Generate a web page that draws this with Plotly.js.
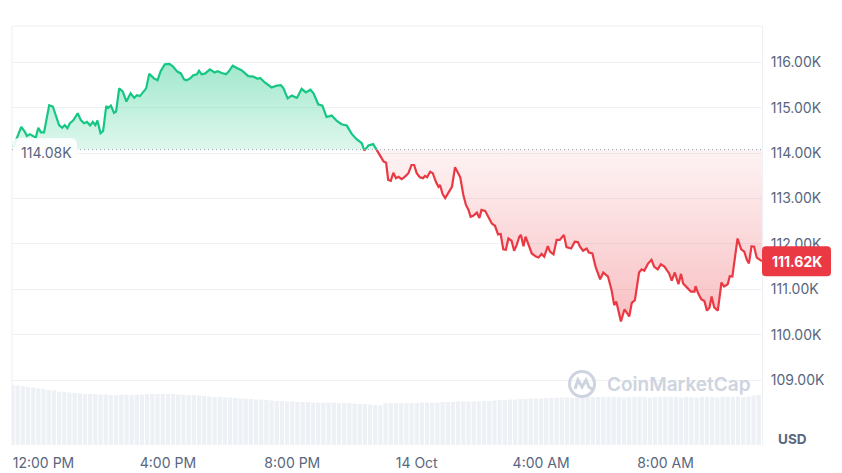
<!DOCTYPE html>
<html><head><meta charset="utf-8">
<script src="https://cdn.plot.ly/plotly-3.0.1.min.js"></script>
<style>html,body{margin:0;padding:0;background:#fff}#chart{width:842px;height:473px}</style>
</head><body><div id="chart"></div>
<script>
const baselinePrice = 114080;
const lastPrice = 111620;

const times = [
'2025-10-13 11:02','2025-10-13 11:17','2025-10-13 11:24','2025-10-13 11:28','2025-10-13 11:34','2025-10-13 11:39','2025-10-13 11:45','2025-10-13 11:50','2025-10-13 11:55','2025-10-13 12:01',
'2025-10-13 12:11','2025-10-13 12:18','2025-10-13 12:25','2025-10-13 12:30','2025-10-13 12:36','2025-10-13 12:41','2025-10-13 12:46','2025-10-13 12:51','2025-10-13 12:57','2025-10-13 13:06',
'2025-10-13 13:12','2025-10-13 13:18','2025-10-13 13:24','2025-10-13 13:30','2025-10-13 13:35','2025-10-13 13:40','2025-10-13 13:44','2025-10-13 13:50','2025-10-13 13:55','2025-10-13 14:01',
'2025-10-13 14:05','2025-10-13 14:10','2025-10-13 14:16','2025-10-13 14:20','2025-10-13 14:26','2025-10-13 14:33','2025-10-13 14:40','2025-10-13 14:48','2025-10-13 14:55','2025-10-13 15:00',
'2025-10-13 15:06','2025-10-13 15:12','2025-10-13 15:18','2025-10-13 15:24','2025-10-13 15:33','2025-10-13 15:40','2025-10-13 15:46','2025-10-13 15:54','2025-10-13 16:03','2025-10-13 16:10',
'2025-10-13 16:18','2025-10-13 16:25','2025-10-13 16:31','2025-10-13 16:36','2025-10-13 16:43','2025-10-13 16:49','2025-10-13 16:56','2025-10-13 17:00','2025-10-13 17:05','2025-10-13 17:12',
'2025-10-13 17:21','2025-10-13 17:30','2025-10-13 17:36','2025-10-13 17:44','2025-10-13 17:52','2025-10-13 17:58','2025-10-13 18:05','2025-10-13 18:13','2025-10-13 18:22','2025-10-13 18:35',
'2025-10-13 18:45','2025-10-13 18:53','2025-10-13 18:58','2025-10-13 19:07','2025-10-13 19:20','2025-10-13 19:30','2025-10-13 19:38','2025-10-13 19:43','2025-10-13 19:51','2025-10-13 19:59',
'2025-10-13 20:09','2025-10-13 20:18','2025-10-13 20:26','2025-10-13 20:35','2025-10-13 20:41','2025-10-13 20:50','2025-10-13 20:58','2025-10-13 21:06','2025-10-13 21:16','2025-10-13 21:26',
'2025-10-13 21:35','2025-10-13 21:45','2025-10-13 21:55','2025-10-13 22:04','2025-10-13 22:14','2025-10-13 22:19','2025-10-13 22:27','2025-10-13 22:36','2025-10-13 22:43','2025-10-13 22:49',
'2025-10-13 22:56','2025-10-13 23:01','2025-10-13 23:05','2025-10-13 23:10','2025-10-13 23:15','2025-10-13 23:20','2025-10-13 23:25','2025-10-13 23:31','2025-10-13 23:37','2025-10-13 23:44',
'2025-10-13 23:50','2025-10-13 23:55','2025-10-14 00:00','2025-10-14 00:06','2025-10-14 00:12','2025-10-14 00:16','2025-10-14 00:20','2025-10-14 00:26','2025-10-14 00:31','2025-10-14 00:37',
'2025-10-14 00:42','2025-10-14 00:45','2025-10-14 00:50','2025-10-14 00:55','2025-10-14 01:01','2025-10-14 01:08','2025-10-14 01:14','2025-10-14 01:18','2025-10-14 01:24','2025-10-14 01:30',
'2025-10-14 01:35','2025-10-14 01:40','2025-10-14 01:44','2025-10-14 01:49','2025-10-14 01:56','2025-10-14 02:01','2025-10-14 02:05','2025-10-14 02:12','2025-10-14 02:18','2025-10-14 02:25',
'2025-10-14 02:31','2025-10-14 02:37','2025-10-14 02:42','2025-10-14 02:47','2025-10-14 02:52','2025-10-14 02:57','2025-10-14 03:03','2025-10-14 03:08','2025-10-14 03:13','2025-10-14 03:18',
'2025-10-14 03:21','2025-10-14 03:26','2025-10-14 03:30','2025-10-14 03:35','2025-10-14 03:42','2025-10-14 03:50','2025-10-14 03:55','2025-10-14 04:01','2025-10-14 04:06','2025-10-14 04:13',
'2025-10-14 04:17','2025-10-14 04:24','2025-10-14 04:30','2025-10-14 04:36','2025-10-14 04:44','2025-10-14 04:49','2025-10-14 04:58','2025-10-14 05:05','2025-10-14 05:11','2025-10-14 05:15',
'2025-10-14 05:21','2025-10-14 05:28','2025-10-14 05:32','2025-10-14 05:39','2025-10-14 05:45','2025-10-14 05:54','2025-10-14 06:00','2025-10-14 06:09','2025-10-14 06:16','2025-10-14 06:21',
'2025-10-14 06:25','2025-10-14 06:29','2025-10-14 06:34','2025-10-14 06:41','2025-10-14 06:50','2025-10-14 06:55','2025-10-14 07:01','2025-10-14 07:09','2025-10-14 07:14','2025-10-14 07:19',
'2025-10-14 07:26','2025-10-14 07:33','2025-10-14 07:38','2025-10-14 07:45','2025-10-14 07:51','2025-10-14 07:58','2025-10-14 08:07','2025-10-14 08:12','2025-10-14 08:18','2025-10-14 08:25',
'2025-10-14 08:30','2025-10-14 08:34','2025-10-14 08:43','2025-10-14 08:49','2025-10-14 08:56','2025-10-14 08:58','2025-10-14 09:03','2025-10-14 09:09','2025-10-14 09:15','2025-10-14 09:20',
'2025-10-14 09:25','2025-10-14 09:29','2025-10-14 09:34','2025-10-14 09:41','2025-10-14 09:48','2025-10-14 09:53','2025-10-14 10:00','2025-10-14 10:04','2025-10-14 10:09','2025-10-14 10:19',
'2025-10-14 10:26','2025-10-14 10:32','2025-10-14 10:37','2025-10-14 10:41','2025-10-14 10:46','2025-10-14 10:51','2025-10-14 10:56','2025-10-14 11:02','2025-10-14 11:06'
];

const prices = [
114140,114580,114470,114380,114420,114380,114340,114560,114460,114460,
115060,115030,114800,114620,114560,114620,114550,114660,114720,114880,
114730,114660,114690,114610,114690,114620,114720,114440,114490,115040,
115000,115050,114890,114920,115430,115360,115140,115320,115220,115280,
115260,115340,115430,115750,115650,115610,115810,115960,115970,115910,
115800,115760,115630,115610,115650,115720,115740,115820,115740,115760,
115850,115780,115810,115770,115740,115810,115930,115880,115830,115700,
115690,115640,115660,115560,115450,115490,115500,115430,115210,115270,
115220,115420,115340,115400,115320,115080,115050,114800,114830,114710,
114640,114610,114420,114310,114220,114060,114170,114200,114070,113960,
113820,113790,113410,113390,113570,113450,113480,113430,113480,113560,
113740,113740,113560,113470,113450,113500,113470,113590,113560,113370,
113260,113300,113100,113010,113130,113260,113690,113590,113470,113080,
112860,112750,112600,112620,112690,112570,112750,112730,112590,112450,
112400,112210,112220,111880,111870,112120,112070,111850,111980,112160,
112200,111950,112160,112010,111790,111720,111700,111780,111720,111950,
111830,111770,112090,112090,112200,111930,111900,112050,112040,111940,
111850,111900,111810,111790,111500,111220,111370,111280,110980,110650,
110730,110540,110290,110560,110400,110700,110760,111370,111440,111410,
111560,111650,111500,111440,111550,111500,111350,111190,111370,111110,
111340,111130,111020,110950,110950,111070,110910,110780,110740,110530,
110600,110840,110600,110530,111150,111060,111110,111290,111280,112120,
111880,111830,111650,111570,111950,111940,111700,111660,111620
];

const volumeStart = '2025-10-13 11:00';
const volumeStepMinutes = 10;
const volumes = [
72.0,71.4,70.8,69.6,69.0,67.8,67.2,66.0,65.4,64.2,63.6,63.0,62.4,61.8,61.2,61.2,61.2,60.6,60.6,60.0,
60.0,60.6,60.6,60.0,60.6,60.6,61.2,61.2,61.2,61.2,61.2,61.2,60.6,60.6,60.0,60.0,59.4,58.8,58.2,57.6,
57.6,57.0,57.0,56.4,55.8,55.8,55.2,54.6,54.6,54.0,53.4,52.8,52.8,52.2,52.2,51.6,51.6,51.6,51.0,51.0,
51.0,51.0,51.0,50.4,50.4,50.4,49.8,49.2,49.2,48.6,48.0,47.4,50.4,50.4,50.4,50.4,50.4,50.4,50.4,51.0,
51.0,51.0,51.0,51.6,51.6,51.6,52.2,52.2,52.2,52.2,52.2,52.8,52.8,53.4,54.0,54.0,54.6,54.6,55.2,55.2,
55.8,55.8,55.8,56.4,56.4,56.4,57.0,57.0,56.4,57.0,57.6,57.6,57.6,57.6,57.6,57.6,57.6,57.6,57.0,57.6,
57.6,57.6,57.6,57.0,57.6,57.6,57.6,57.6,57.6,57.0,57.6,57.0,57.0,57.6,57.6,57.6,57.0,57.6,57.6,57.6,
58.2,57.6,58.2,59.4,60.0
];

const xRange = ['2025-10-13 10:59:12', '2025-10-14 11:06:12'];
const xTickTimes = ['2025-10-13 12:00','2025-10-13 16:00','2025-10-13 20:00','2025-10-14 00:00','2025-10-14 04:00','2025-10-14 08:00'];
const xTickLabels = ['12:00 PM','4:00 PM','8:00 PM','14 Oct','4:00 AM','8:00 AM'];
const yTickValues = [109000,110000,111000,112000,113000,114000,115000,116000];
const yTickLabels = ['109.00K','110.00K','111.00K','112.00K','113.00K','114.00K','115.00K','116.00K'];
const yRange = [107567, 116805];
const volRange = [0, 502.8];

function toMs(s){
  const [d,t] = s.split(' ');
  const [Y,M,D] = d.split('-').map(Number);
  const tp = t.split(':').map(Number);
  return Date.UTC(Y, M-1, D, tp[0], tp[1], tp[2] || 0);
}

const tMs = times.map(toMs);
const aug = [];
for (let i = 0; i < prices.length; i++) {
  aug.push([tMs[i], prices[i]]);
  if (i < prices.length - 1) {
    const a = prices[i] - baselinePrice, b = prices[i+1] - baselinePrice;
    if (a * b < 0) {
      const f = a / (a - b);
      aug.push([tMs[i] + f * (tMs[i+1] - tMs[i]), baselinePrice]);
    }
  }
}
const ax = aug.map(p => p[0]);
const upY = aug.map(p => p[1] >= baselinePrice ? p[1] : null);
const dnY = aug.map(p => p[1] <= baselinePrice ? p[1] : null);
const upFill = aug.map(p => Math.max(p[1], baselinePrice));
const dnFill = aug.map(p => Math.min(p[1], baselinePrice));
const baseY = aug.map(() => baselinePrice);
const maxP = Math.max(...prices), minP = Math.min(...prices);

const v0 = toMs(volumeStart), step = volumeStepMinutes * 60000;
const volX = volumes.map((_, i) => v0 + i * step);

const GREEN = '#16c784', RED = '#ea3943';
const FONT = 'Inter, "Noto Sans", sans-serif';
const TXT = '#58667e';

const traces = [
  {x: ax, y: baseY, mode: 'lines', line: {width: 0}, hoverinfo: 'skip'},
  {x: ax, y: upFill, mode: 'lines', line: {width: 0}, fill: 'tonexty',
   fillgradient: {type: 'vertical', start: baselinePrice, stop: maxP,
     colorscale: [[0, 'rgba(22,199,132,0.14)'], [1, 'rgba(22,199,132,0.40)']]}, hoverinfo: 'skip'},
  {x: ax, y: baseY, mode: 'lines', line: {width: 0}, hoverinfo: 'skip'},
  {x: ax, y: dnFill, mode: 'lines', line: {width: 0}, fill: 'tonexty',
   fillgradient: {type: 'vertical', start: minP, stop: baselinePrice,
     colorscale: [[0, 'rgba(234,57,67,0.32)'], [1, 'rgba(234,57,67,0.06)']]}, hoverinfo: 'skip'},
  {x: ax, y: upY, mode: 'lines', line: {color: GREEN, width: 2.2}, connectgaps: false},
  {x: ax, y: dnY, mode: 'lines', line: {color: RED, width: 2.2}, connectgaps: false},
  {x: volX, y: volumes, type: 'bar', yaxis: 'y2', width: step * 0.82,
   marker: {color: '#edf0f4', line: {width: 0}}, hoverinfo: 'skip'}
];

const span = yRange[1] - yRange[0];
const basePaper = (baselinePrice - yRange[0]) / span;
const lastPaper = (lastPrice - yRange[0]) / span;

function roundRect(x0, y0, x1, y1, r) {
  return `M ${x0+r},${y1} L ${x1-r},${y1} Q ${x1},${y1} ${x1},${y1-r} L ${x1},${y0+r} Q ${x1},${y0} ${x1-r},${y0} L ${x0+r},${y0} Q ${x0},${y0} ${x0},${y0+r} L ${x0},${y1-r} Q ${x0},${y1} ${x0+r},${y1} Z`;
}

const layout = {
  width: 842, height: 473, autosize: false,
  margin: {l: 12, r: 80, t: 26, b: 28, pad: 0},
  paper_bgcolor: '#ffffff', plot_bgcolor: '#ffffff',
  showlegend: false, bargap: 0.18,
  font: {family: FONT, size: 14, color: TXT},
  xaxis: {type: 'date', range: xRange.map(toMs), tickvals: xTickTimes.map(toMs), ticktext: xTickLabels,
    showgrid: false, zeroline: false, showline: false, ticks: 'outside', ticklen: 5, tickcolor: 'rgba(0,0,0,0)',
    tickfont: {family: FONT, size: 14, color: TXT}, fixedrange: true},
  yaxis: {side: 'right', range: yRange, tickvals: yTickValues, ticktext: yTickLabels,
    showgrid: true, gridcolor: '#eff2f5', gridwidth: 1, zeroline: false,
    showline: true, linecolor: '#eceff3', linewidth: 1,
    ticks: 'outside', ticklen: 5, tickcolor: 'rgba(0,0,0,0)',
    tickfont: {family: FONT, size: 14, color: TXT}, fixedrange: true},
  yaxis2: {overlaying: 'y', range: volRange, visible: false, fixedrange: true},
  shapes: [
    {type: 'line', xref: 'paper', yref: 'paper', x0: 0, x1: 0, y0: 0, y1: 1, line: {color: '#eceff3', width: 1}},
    {type: 'line', xref: 'paper', yref: 'paper', x0: 0, x1: 1, y0: 1, y1: 1, line: {color: '#eceff3', width: 1}},
    {type: 'line', xref: 'paper', yref: 'y', x0: 0, x1: 1, y0: baselinePrice, y1: baselinePrice, layer: 'above',
     line: {color: '#9aa4b5', width: 1, dash: '1px,3px'}},
    {type: 'path', xref: 'paper', yref: 'paper', xsizemode: 'pixel', ysizemode: 'pixel', xanchor: 0, yanchor: basePaper,
     path: roundRect(1, -13, 65, 11.5, 6), fillcolor: 'rgba(255,255,255,0.88)', line: {width: 0}, layer: 'above'},
    {type: 'path', xref: 'paper', yref: 'paper', xsizemode: 'pixel', ysizemode: 'pixel', xanchor: 1, yanchor: lastPaper,
     path: roundRect(0, -15, 69, 15, 4), fillcolor: RED, line: {width: 0}, layer: 'above'},
    {type: 'circle', xref: 'paper', yref: 'paper', xsizemode: 'pixel', ysizemode: 'pixel', xanchor: 0.76, yanchor: 0.1456,
     x0: -12.5, x1: 12.5, y0: -12.5, y1: 12.5, line: {color: '#cdd4e0', width: 3}, layer: 'above'},
    {type: 'path', xref: 'paper', yref: 'paper', xsizemode: 'pixel', ysizemode: 'pixel', xanchor: 0.76, yanchor: 0.1456,
     path: 'M -7,-5 L -4,4 L 0,-3 L 4,4 L 7,-3 L 11,-6', line: {color: '#cdd4e0', width: 3}, layer: 'above'}
  ],
  annotations: [
    {xref: 'paper', yref: 'paper', x: (46 - 12) / 750, y: basePaper, yshift: -3, text: '114.08K', showarrow: false,
     xanchor: 'center', yanchor: 'middle', font: {family: FONT, size: 14, color: TXT}},
    {xref: 'paper', yref: 'paper', x: 1 + 34.5 / 750, y: lastPaper, text: '111.62K', showarrow: false,
     xanchor: 'center', yanchor: 'middle', font: {family: FONT, size: 14, color: '#ffffff', weight: 700}},
    {xref: 'paper', yref: 'paper', x: (792.5 - 12) / 750, y: (445 - 438.5) / 419, text: 'USD', showarrow: false,
     xanchor: 'center', yanchor: 'middle', font: {family: FONT, size: 13.5, color: TXT, weight: 700}},
    {xref: 'paper', yref: 'paper', x: (605 - 12) / 750, y: (445 - 384) / 419, text: 'CoinMarketCap', showarrow: false,
     xanchor: 'left', yanchor: 'middle', font: {family: FONT, size: 19, color: '#cdd4e0', weight: 600}}
  ]
};

Plotly.newPlot('chart', traces, layout, {staticPlot: true, displayModeBar: false});
</script>
</body></html>
